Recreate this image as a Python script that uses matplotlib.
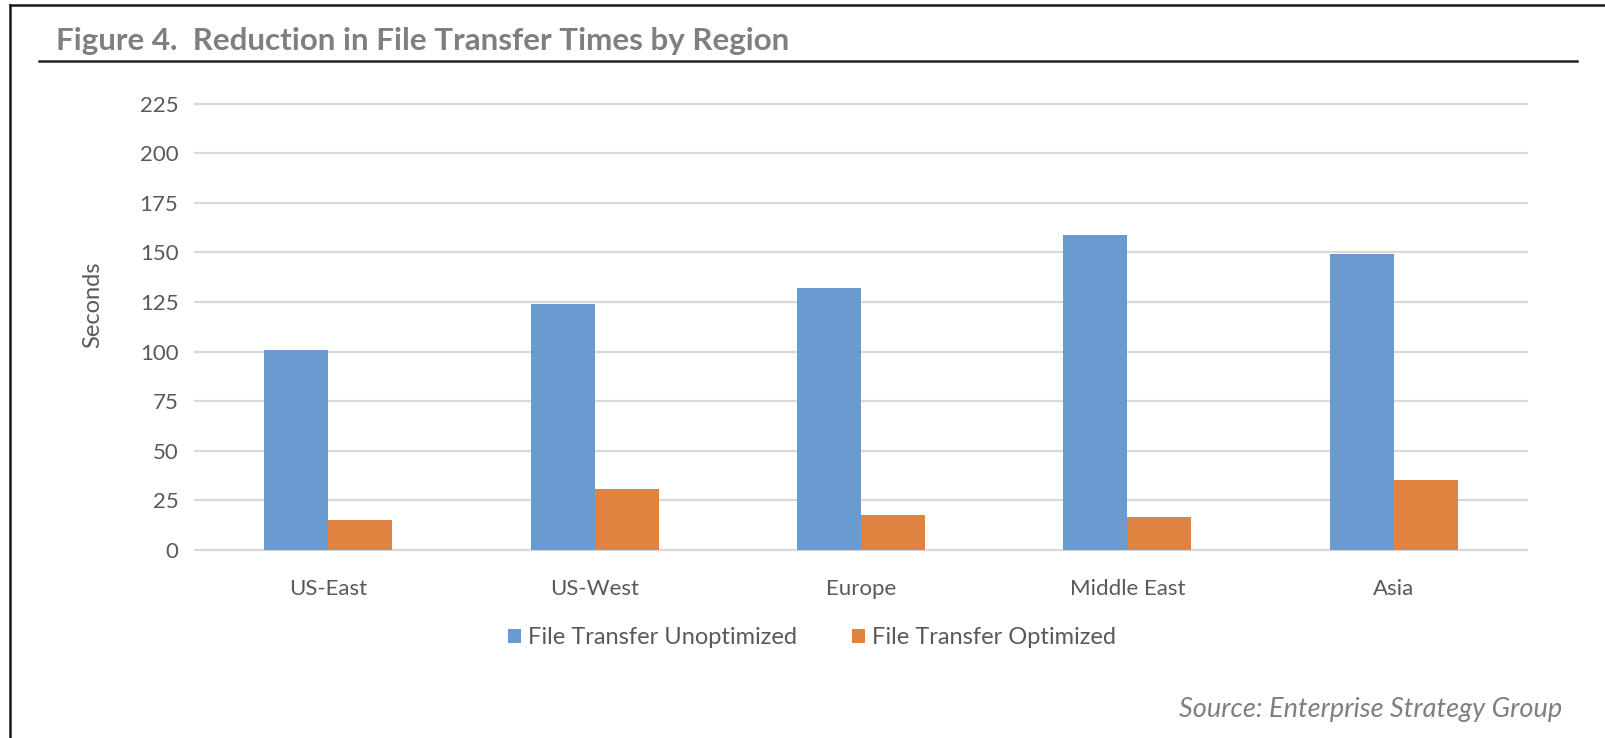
import matplotlib
matplotlib.use("Agg")
import matplotlib.pyplot as plt
from matplotlib.lines import Line2D
import numpy as np

regions = ["US-East", "US-West", "Europe", "Middle East", "Asia"]
unoptimized = [101, 124, 132, 159, 149]
optimized = [15, 31, 17.5, 16.5, 35.5]
series_names = ["File Transfer Unoptimized", "File Transfer Optimized"]
y_ticks = [0, 25, 50, 75, 100, 125, 150, 175, 200, 225]

blue = "#699BD1"
orange = "#E08340"
text_gray = "#595959"
title_gray = "#7F7F7F"

plt.rcParams["font.family"] = ["Lato", "DejaVu Sans"]

W, H = 1606, 738
fig = plt.figure(figsize=(W / 100, H / 100), dpi=100)
ax = fig.add_axes([195 / W, 1 - 550 / H, (1527 - 195) / W, (550 - 103.7) / H])

x = np.arange(len(regions))
bw = 0.24
b1 = ax.bar(x - bw / 2, unoptimized, bw, color=blue, label=series_names[0], zorder=3)
b2 = ax.bar(x + bw / 2, optimized, bw, color=orange, label=series_names[1], zorder=3)

ax.set_xlim(-0.5, len(regions) - 0.5)
ax.set_ylim(0, 225)
ax.set_yticks(y_ticks)
ax.set_xticks(x)
ax.set_xticklabels(regions)
for s in ax.spines.values():
    s.set_visible(False)
ax.tick_params(axis="both", length=0, labelsize=16, colors=text_gray)
ax.tick_params(axis="y", pad=12)
ax.tick_params(axis="x", pad=21)
for yv in y_ticks:
    ax.axhline(yv, color="#D9D9D9", lw=1.6, zorder=1, clip_on=False)

fig.text(93 / W, 1 - 305 / H, "Seconds", rotation=90, ha="center", va="center",
         fontsize=17, color=text_gray)

fig.text(56 / W, 1 - 41 / H, "Figure 4.  Reduction in File Transfer Times by Region",
         ha="left", va="center", fontsize=22.6, fontweight="bold", color=title_gray)

fig.text(1562 / W, 1 - 709 / H, "Source: Enterprise Strategy Group", ha="right",
         va="center", fontsize=19.5, style="italic", color=title_gray)

fig.legend(handles=[b1, b2], loc="center", bbox_to_anchor=(812 / W, 1 - 638 / H),
           ncol=2, frameon=False, fontsize=17, handlelength=0.55, handleheight=0.55,
           handletextpad=0.3, columnspacing=2.3, labelcolor=text_gray)

# frame and title rule
fig.add_artist(Line2D([10 / W, 1], [1 - 5 / H, 1 - 5 / H], color="#1a1a1a", lw=1.8))
fig.add_artist(Line2D([10 / W, 10 / W], [0, 1 - 5 / H], color="#1a1a1a", lw=1.8))
fig.add_artist(Line2D([39 / W, 1577 / W], [1 - 61 / H, 1 - 61 / H], color="#222222", lw=1.8))

fig.savefig("out.png", dpi=100)
